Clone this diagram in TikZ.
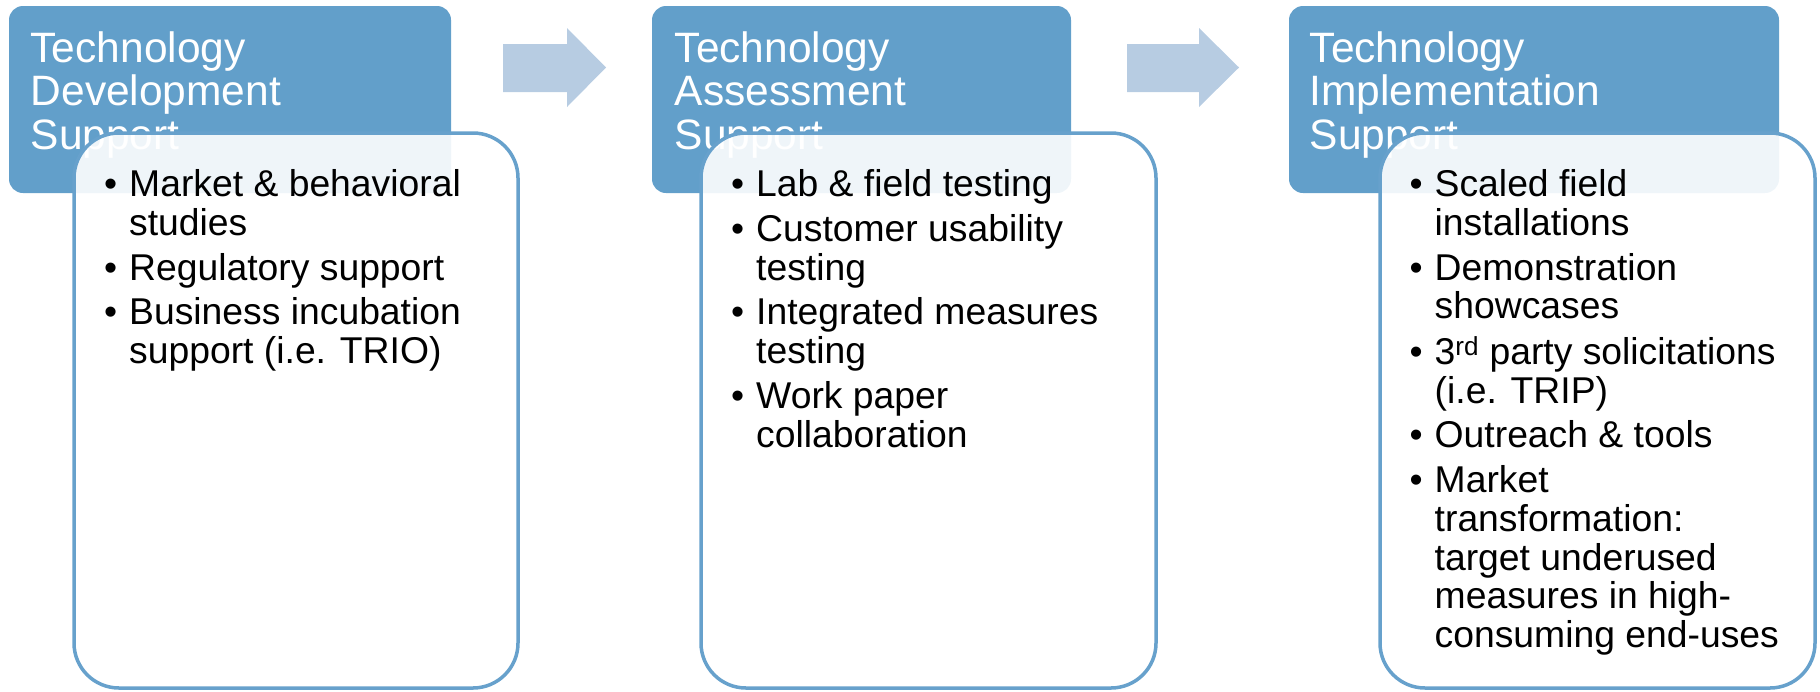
\documentclass[tikz,border=0pt]{standalone}
\usepackage{fontspec}
\setmainfont{Liberation Sans}
\definecolor{hdr}{HTML}{629FCA}
\definecolor{edge}{HTML}{67A1CC}
\definecolor{arw}{HTML}{B7CCE2}
\newcommand{\bu}{\makebox[25pt][l]{\textbullet}}
\newcommand{\ind}{\hspace*{25pt}}
\newcommand{\lines}[1]{\begin{tabular}[t]{@{}l@{}}#1\end{tabular}}
\tikzset{
  hdrbox/.style={fill=hdr, rounded corners=14pt, inner sep=0pt, outer sep=0pt, anchor=north west},
  bodybox/.style={draw=edge, line width=3.5pt, fill=white, fill opacity=0.9, rounded corners=45pt, inner sep=0pt, outer sep=0pt, anchor=north west},
  hdrtext/.style={text=white, font=\fontsize{42.5}{43.8}\selectfont, anchor=base west, inner sep=0pt},
  bodytext/.style={text=black, font=\fontsize{37.3}{38.8}\selectfont, anchor=base west, inner sep=0pt},
  blockarrow/.style={fill=arw}
}
\begin{document}
\begin{tikzpicture}[x=1pt,y=-1pt]
\useasboundingbox (0,0) rectangle (1820,691);
% headers
\node[hdrbox, minimum width=442pt, minimum height=187pt] (h1) at (9,6) {};
\node[hdrbox, minimum width=419pt, minimum height=187pt] (h2) at (652,6) {};
\node[hdrbox, minimum width=490pt, minimum height=187pt] (h3) at (1289,6) {};
\node[hdrtext] (h1t) at (30.5,62) {\lines{Technology\\Development\\Support}};
\node[hdrtext] (h2t) at (674.5,62) {\lines{Technology\\Assessment\\Support}};
\node[hdrtext] (h3t) at (1309.5,62) {\lines{Technology\\Implementation\\Support}};
% arrows
\fill[blockarrow] (503,44) -- (567,44) -- (567,28) -- (606,67.5) -- (567,107) -- (567,92) -- (503,92) -- cycle;
\fill[blockarrow] (1127,44) -- (1199,44) -- (1199,28) -- (1239,67.5) -- (1199,107) -- (1199,92) -- (1127,92) -- cycle;
% bodies
\node[bodybox, minimum width=444pt, minimum height=555pt] (b1) at (74,133) {};
\node[bodybox, minimum width=455pt, minimum height=555pt] (b2) at (701,133) {};
\node[bodybox, minimum width=435pt, minimum height=555pt] (b3) at (1380,133) {};
% body texts
\node[bodytext] (t1) at (104,196.5) {\lines{\bu Market \& behavioral\\ \ind studies\\[5.9pt]
  \bu Regulatory support\\[5.9pt]
  \bu Business incubation\\ \ind support (i.e. TRIO)}};
\node[bodytext] (t2) at (731,196.5) {\lines{\bu Lab \& field testing\\[5.9pt]
  \bu Customer usability\\ \ind testing\\[5.9pt]
  \bu Integrated measures\\ \ind testing\\[5.9pt]
  \bu Work paper\\ \ind collaboration}};
\node[bodytext] (t3) at (1409.5,196.5) {\lines{\bu Scaled field\\ \ind installations\\[5.9pt]
  \bu Demonstration\\ \ind showcases\\[5.9pt]
  \bu 3\textsuperscript{rd} party solicitations\\ \ind (i.e. TRIP)\\[5.9pt]
  \bu Outreach \& tools\\[5.9pt]
  \bu Market\\ \ind transformation:\\ \ind target underused\\ \ind measures in high-\\ \ind consuming end-uses}};
\end{tikzpicture}
\end{document}
